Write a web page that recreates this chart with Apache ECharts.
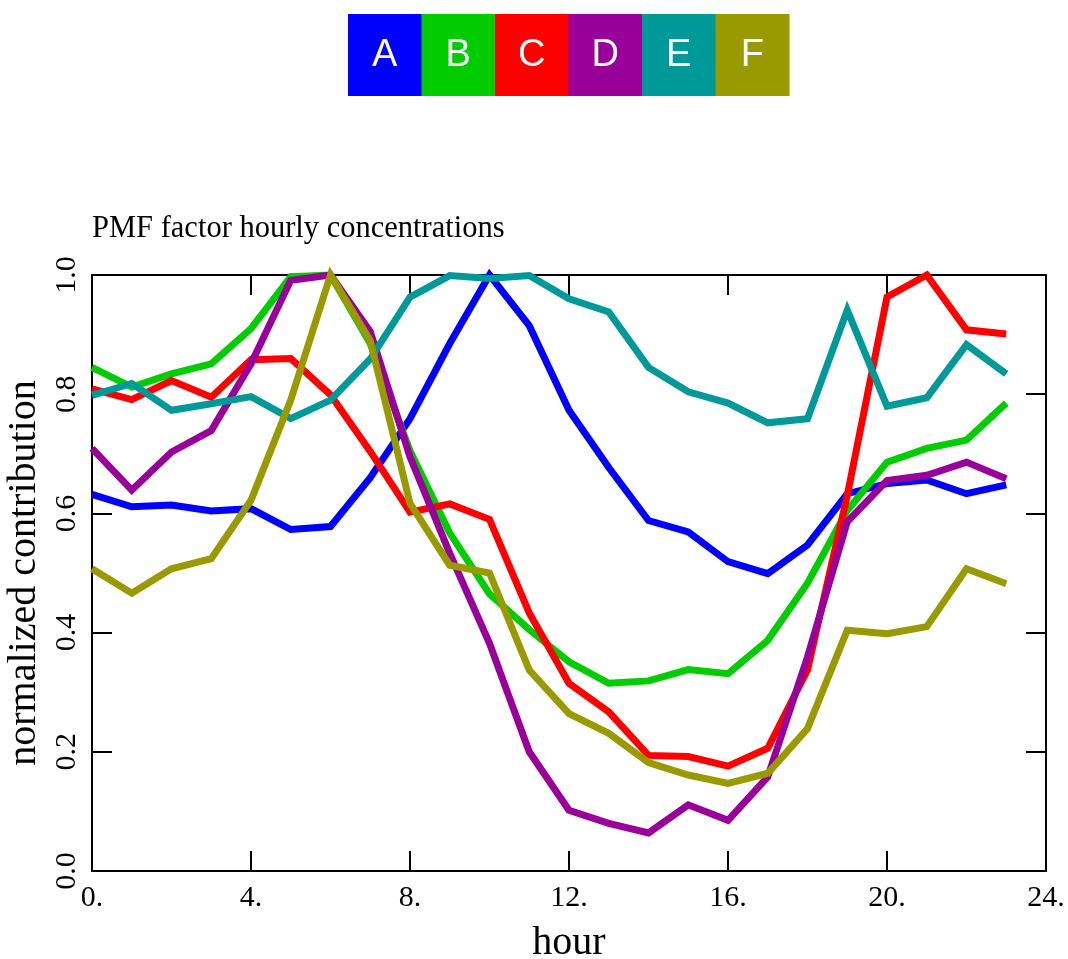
<!DOCTYPE html>
<html>
<head>
<meta charset="utf-8">
<title>PMF factor hourly concentrations</title>
<script src="https://cdn.jsdelivr.net/npm/echarts@6/dist/echarts.min.js"></script>
<style>
  html, body { margin: 0; padding: 0; background: #fff; }
  #chart { width: 1068px; height: 959px; }
</style>
</head>
<body>
<div id="chart"></div>
<script>
// Hours of the day (x values) and factor names
const hours = [0, 1, 2, 3, 4, 5, 6, 7, 8, 9, 10, 11, 12, 13, 14, 15, 16, 17, 18, 19, 20, 21, 22, 23];
const factorNames = ['A', 'B', 'C', 'D', 'E', 'F'];
const factorColors = ['#0000ff', '#00cc00', '#ff0000', '#990099', '#009999', '#999900'];

// Normalized hourly contribution of each factor
const factorA = [0.632, 0.611, 0.614, 0.604, 0.608, 0.573, 0.578, 0.660, 0.759, 0.885, 1.000, 0.915, 0.773, 0.677, 0.588, 0.569, 0.519, 0.499, 0.547, 0.633, 0.650, 0.656, 0.633, 0.648];
const factorB = [0.845, 0.812, 0.834, 0.851, 0.910, 0.997, 1.000, 0.885, 0.705, 0.567, 0.465, 0.405, 0.351, 0.315, 0.319, 0.338, 0.331, 0.387, 0.483, 0.605, 0.686, 0.709, 0.723, 0.785];
const factorC = [0.809, 0.791, 0.823, 0.795, 0.858, 0.860, 0.799, 0.704, 0.602, 0.616, 0.590, 0.433, 0.315, 0.267, 0.194, 0.192, 0.176, 0.206, 0.337, 0.630, 0.963, 1.000, 0.908, 0.901];
const factorD = [0.709, 0.639, 0.703, 0.739, 0.851, 0.991, 1.000, 0.905, 0.695, 0.533, 0.382, 0.200, 0.102, 0.080, 0.064, 0.111, 0.085, 0.158, 0.359, 0.586, 0.655, 0.664, 0.686, 0.658];
const factorE = [0.798, 0.818, 0.773, 0.784, 0.796, 0.759, 0.790, 0.859, 0.963, 0.999, 0.994, 0.999, 0.960, 0.938, 0.845, 0.804, 0.785, 0.752, 0.759, 0.941, 0.780, 0.794, 0.883, 0.834];
const factorF = [0.507, 0.466, 0.507, 0.524, 0.622, 0.790, 1.000, 0.890, 0.617, 0.513, 0.500, 0.337, 0.264, 0.231, 0.182, 0.161, 0.147, 0.164, 0.239, 0.404, 0.398, 0.410, 0.507, 0.482];

// Axis ranges and tick spacing
const xMin = 0, xMax = 24, xStep = 4;
const yMin = 0, yMax = 1, yStep = 0.2;

const factorValues = [factorA, factorB, factorC, factorD, factorE, factorF];

const serifFont = '"Liberation Serif", "DejaVu Serif", serif';
const sansFont = '"Liberation Sans", Arial, sans-serif';

const frameLine = { show: true, onZero: false, lineStyle: { color: '#000', width: 2 } };
const innerTick = { show: true, inside: true, length: 20, lineStyle: { color: '#000', width: 2 } };

// Key: a row of coloured boxes with the factor letter inside
const keyBoxW = 73.5, keyBoxH = 82, keyLeft = 348, keyTop = 14;
const keyGraphics = factorNames.map((name, i) => ({
  type: 'group',
  left: keyLeft + i * keyBoxW,
  top: keyTop,
  children: [
    { type: 'rect', shape: { x: 0, y: 0, width: keyBoxW + 0.5, height: keyBoxH }, style: { fill: factorColors[i] } },
    { type: 'text', x: keyBoxW / 2, y: keyBoxH / 2 + 1,
      style: { text: name, fill: '#fff', font: '38px ' + sansFont, align: 'center', verticalAlign: 'middle' } }
  ]
}));

const chart = echarts.init(document.getElementById('chart'), null, { renderer: 'canvas' });

chart.setOption({
  animation: false,
  backgroundColor: '#fff',
  title: {
    text: 'PMF factor hourly concentrations',
    left: 87,
    top: 208,
    textStyle: { fontFamily: serifFont, fontSize: 30.5, fontWeight: 'normal', color: '#000' }
  },
  graphic: keyGraphics,
  grid: { left: 92, right: 22, top: 275, bottom: 88, containLabel: false, outerBoundsMode: 'none' },
  xAxis: [
    {
      type: 'value', min: xMin, max: xMax, interval: xStep, position: 'bottom',
      axisLine: frameLine, axisTick: innerTick, splitLine: { show: false },
      axisLabel: {
        formatter: v => v + '.', fontFamily: serifFont, fontSize: 30, color: '#000', margin: 12,
        showMinLabel: true, showMaxLabel: true
      },
      name: 'hour', nameLocation: 'middle', nameGap: 52,
      nameTextStyle: { fontFamily: serifFont, fontSize: 40, color: '#000' }
    },
    {
      type: 'value', min: xMin, max: xMax, interval: xStep, position: 'top',
      axisLine: frameLine, axisTick: innerTick, splitLine: { show: false }, axisLabel: { show: false }
    }
  ],
  yAxis: [
    {
      type: 'value', min: yMin, max: yMax, interval: yStep, position: 'left',
      axisLine: frameLine, axisTick: innerTick, splitLine: { show: false },
      axisLabel: {
        formatter: v => v.toFixed(1), rotate: 90, fontFamily: serifFont, fontSize: 30, color: '#000', margin: 10,
        showMinLabel: true, showMaxLabel: true
      },
      name: 'normalized contribution', nameLocation: 'middle', nameRotate: 90, nameGap: 42,
      nameTextStyle: { fontFamily: serifFont, fontSize: 40, color: '#000' }
    },
    {
      type: 'value', min: yMin, max: yMax, interval: yStep, position: 'right',
      axisLine: frameLine, axisTick: innerTick, splitLine: { show: false }, axisLabel: { show: false }
    }
  ],
  series: factorNames.map((name, i) => ({
    name: name,
    type: 'line',
    xAxisIndex: 0,
    yAxisIndex: 0,
    data: hours.map((h, k) => [h, factorValues[i][k]]),
    showSymbol: false,
    symbol: 'none',
    clip: false,
    lineStyle: { color: factorColors[i], width: 7, join: 'miter' },
    itemStyle: { color: factorColors[i] },
    emphasis: { disabled: true }
  }))
});
</script>
</body>
</html>
